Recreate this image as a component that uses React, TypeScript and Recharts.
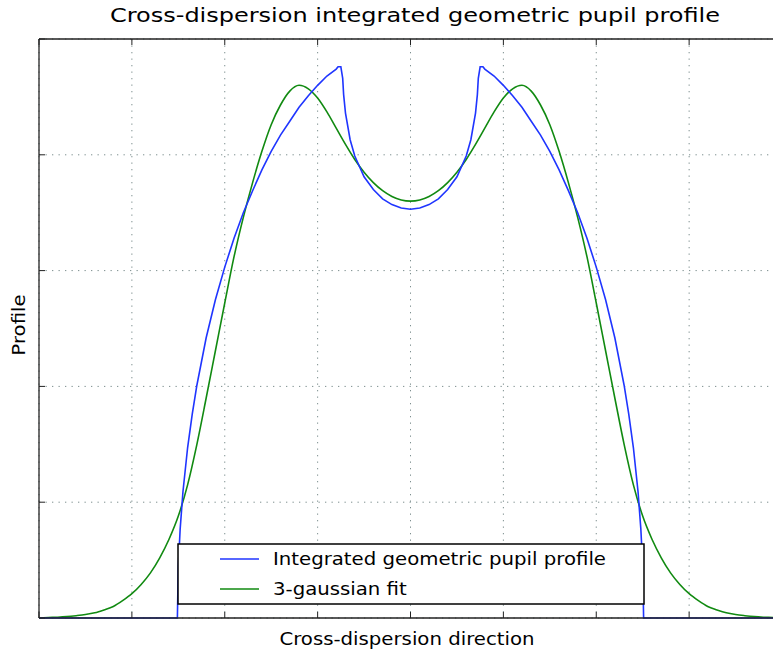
import { LineChart, Line, XAxis, YAxis, CartesianGrid } from 'recharts';

// Cross-dispersion profile: pupil profile vs. 3-gaussian fit

const xTicks = [-4, -3, -2, -1, 0, 1, 2, 3, 4];
const yTicks = [0, 1, 2, 3, 4, 5];

const pupilX = [
  -4, -3, -2.6, -2.52, -2.51, -2.5, -2.48, -2.45, -2.4, -2.35, -2.3, -2.2, -2.1, -2.0,
  -1.9, -1.8, -1.7, -1.6, -1.5, -1.4, -1.3, -1.2, -1.1, -1.0, -0.9, -0.8, -0.78, -0.75,
  -0.73, -0.72, -0.7, -0.65, -0.6, -0.5, -0.4, -0.3, -0.2, -0.1, 0,
  0.1, 0.2, 0.3, 0.4, 0.5, 0.6, 0.65, 0.7, 0.72, 0.73, 0.75, 0.78, 0.8, 0.9, 1.0, 1.1,
  1.2, 1.3, 1.4, 1.5, 1.6, 1.7, 1.8, 1.9, 2.0, 2.1, 2.2, 2.3, 2.35, 2.4, 2.45, 2.48,
  2.5, 2.51, 2.52, 2.6, 3, 4,
];
const pupilY = [
  0, 0, 0, 0, 0, 0.45, 0.77, 1.09, 1.47, 1.76, 2.01, 2.42, 2.75, 3.03,
  3.28, 3.5, 3.69, 3.87, 4.03, 4.17, 4.29, 4.41, 4.51, 4.6, 4.68, 4.74, 4.76, 4.76,
  4.66, 4.52, 4.36, 4.13, 3.99, 3.81, 3.7, 3.62, 3.57, 3.54, 3.53,
  3.54, 3.57, 3.62, 3.7, 3.81, 3.99, 4.13, 4.36, 4.52, 4.66, 4.76, 4.76, 4.74, 4.68, 4.6, 4.51,
  4.41, 4.29, 4.17, 4.03, 3.87, 3.69, 3.5, 3.28, 3.03, 2.75, 2.42, 2.01, 1.76, 1.47, 1.09, 0.77,
  0.45, 0, 0, 0, 0, 0,
];

const fitX = [
  -4.0, -3.9, -3.8, -3.7, -3.6, -3.5, -3.4, -3.3, -3.2, -3.1, -3.0, -2.9, -2.8, -2.7, -2.6,
  -2.5, -2.4, -2.3, -2.2, -2.1, -2.0, -1.9, -1.8, -1.7, -1.6, -1.5, -1.4, -1.3, -1.2, -1.1,
  -1.0, -0.9, -0.8, -0.7, -0.6, -0.5, -0.4, -0.3, -0.2, -0.1, 0.0,
  0.1, 0.2, 0.3, 0.4, 0.5, 0.6, 0.7, 0.8, 0.9, 1.0, 1.1, 1.2, 1.3, 1.4, 1.5, 1.6, 1.7, 1.8,
  1.9, 2.0, 2.1, 2.2, 2.3, 2.4, 2.5, 2.6, 2.7, 2.8, 2.9, 3.0, 3.1, 3.2, 3.3, 3.4, 3.5, 3.6,
  3.7, 3.8, 3.9, 4.0,
];
const fitY = [
  0.0, 0.004, 0.007, 0.012, 0.02, 0.03, 0.045, 0.07, 0.1, 0.15, 0.21, 0.29, 0.39, 0.52, 0.68,
  0.88, 1.15, 1.5, 1.9, 2.31, 2.72, 3.12, 3.46, 3.76, 4.03, 4.26, 4.43, 4.55, 4.6, 4.57,
  4.49, 4.37, 4.23, 4.09, 3.96, 3.85, 3.76, 3.69, 3.64, 3.61, 3.6,
  3.61, 3.64, 3.69, 3.76, 3.85, 3.96, 4.09, 4.23, 4.37, 4.49, 4.57, 4.6, 4.55, 4.43, 4.26, 4.03, 3.76, 3.46,
  3.12, 2.72, 2.31, 1.9, 1.5, 1.15, 0.88, 0.68, 0.52, 0.39, 0.29, 0.21, 0.15, 0.1, 0.07, 0.045, 0.03, 0.02,
  0.012, 0.007, 0.004, 0.0,
];

const pupilData = pupilX.map((x, i) => ({ x, y: pupilY[i] }));
const fitData = fitX.map((x, i) => ({ x, y: fitY[i] }));

const FONT = '"DejaVu Sans", sans-serif';
const BLUE = '#1f35ff';
const GREEN = '#118a11';
const AXIS = { stroke: '#222', strokeWidth: 1.3 };
const TICKLINE = { stroke: '#222', strokeWidth: 1 };

// no tick labels, only the inward tick marks
const NoLabel = () => <g />;

export default function App() {
  return (
    <div
      style={{
        position: 'absolute',
        left: 0,
        top: 0,
        width: 773,
        height: 655,
        overflow: 'hidden',
        background: '#fff',
      }}
    >
      <LineChart
        width={790}
        height={655}
        margin={{ top: 39, right: 8, bottom: 37, left: 39 }}
      >
        <CartesianGrid stroke="#7d8f8f" strokeDasharray="1.3 5.2" />
        <XAxis
          type="number"
          dataKey="x"
          domain={[-4, 4]}
          ticks={xTicks}
          interval={0}
          height={1}
          mirror
          tick={NoLabel}
          tickSize={6}
          axisLine={AXIS}
          tickLine={TICKLINE}
        />
        <XAxis
          xAxisId="top"
          orientation="top"
          type="number"
          dataKey="x"
          domain={[-4, 4]}
          ticks={xTicks}
          interval={0}
          height={1}
          mirror
          tick={NoLabel}
          tickSize={6}
          axisLine={AXIS}
          tickLine={TICKLINE}
        />
        <YAxis
          type="number"
          domain={[0, 5]}
          ticks={yTicks}
          interval={0}
          width={1}
          mirror
          tick={NoLabel}
          tickSize={6}
          axisLine={AXIS}
          tickLine={TICKLINE}
        />
        <Line
          xAxisId="top"
          data={fitData}
          dataKey="y"
          type="monotone"
          stroke={GREEN}
          strokeWidth={1.6}
          dot={false}
          isAnimationActive={false}
        />
        <Line
          data={pupilData}
          dataKey="y"
          type="linear"
          stroke={BLUE}
          strokeWidth={1.6}
          dot={false}
          isAnimationActive={false}
        />
      </LineChart>

      <svg
        width={773}
        height={655}
        style={{ position: 'absolute', left: 0, top: 0, pointerEvents: 'none' }}
      >
        <text
          transform="translate(415 22) scale(1.2 1)"
          textAnchor="middle"
          fontFamily={FONT}
          fontSize={20}
          fill="#000"
        >
          Cross-dispersion integrated geometric pupil profile
        </text>
        <text
          transform="translate(407 645) scale(1.16 1)"
          textAnchor="middle"
          fontFamily={FONT}
          fontSize={17}
          fill="#000"
        >
          Cross-dispersion direction
        </text>
        <text
          transform="translate(25 325) rotate(-90) scale(1.16 1)"
          textAnchor="middle"
          fontFamily={FONT}
          fontSize={17}
          fill="#000"
        >
          Profile
        </text>

        <rect x={178} y={544} width={466} height={60} fill="#fff" stroke="#000" strokeWidth={1.5} />
        <line x1={220} y1={559} x2={259} y2={559} stroke={BLUE} strokeWidth={1.6} />
        <text
          transform="translate(273 565) scale(1.16 1)"
          fontFamily={FONT}
          fontSize={17}
          fill="#000"
        >
          Integrated geometric pupil profile
        </text>
        <line x1={220} y1={589} x2={259} y2={589} stroke={GREEN} strokeWidth={1.6} />
        <text
          transform="translate(273 595) scale(1.16 1)"
          fontFamily={FONT}
          fontSize={17}
          fill="#000"
        >
          3-gaussian fit
        </text>
      </svg>
    </div>
  );
}
